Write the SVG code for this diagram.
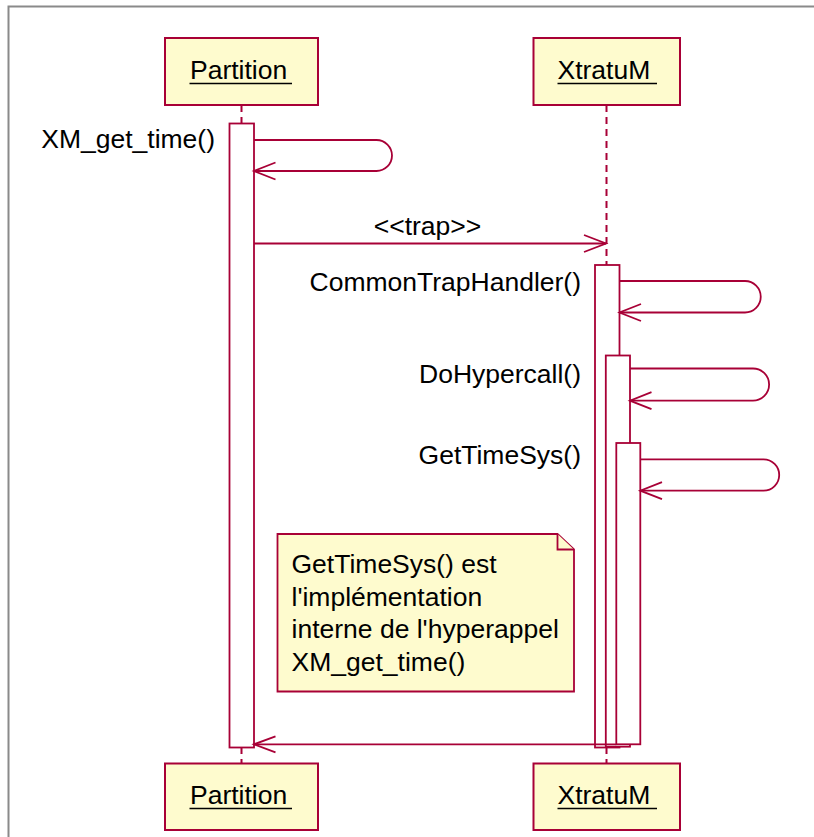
<svg xmlns="http://www.w3.org/2000/svg" width="814" height="837" viewBox="0 0 814 837">
<style>
.frame{fill:none;stroke:#8a8a8a;stroke-width:2}
.head{fill:#FEFBCE;stroke:#A80036;stroke-width:2}
.note{fill:#FEFBCE;stroke:#A80036;stroke-width:1.8}
.bar{fill:#FFFFFF;stroke:#A80036;stroke-width:1.8}
.life{fill:none;stroke:#A80036;stroke-width:2;stroke-dasharray:7,5}
.msg{fill:none;stroke:#A80036;stroke-width:1.8}
.ul{stroke:#000;stroke-width:1.5}
text{font-family:"Liberation Sans",Arial,sans-serif;font-size:26.5px;fill:#000}
.r{text-anchor:end}
.m{text-anchor:middle}
</style>
<rect width="814" height="837" fill="#FFFFFF"/>
<path class="frame" d="M8.5,837 V6.5 H814"/>
<g id="lifelines">
<line class="life" x1="241.5" y1="105" x2="241.5" y2="123"/>
<line class="life" x1="241.5" y1="747" x2="241.5" y2="763"/>
<line class="life" x1="606.5" y1="105" x2="606.5" y2="265"/>
<line class="life" x1="606.5" y1="747" x2="606.5" y2="763"/>
</g>
<g id="partition-top">
<rect class="head" x="165" y="38" width="153" height="67"/>
<text x="190" y="79">Partition</text>
<line class="ul" x1="189.5" y1="83.5" x2="292" y2="83.5"/>
</g>
<g id="xtratum-top">
<rect class="head" x="533.5" y="38" width="146.5" height="67"/>
<text x="557.5" y="79">XtratuM</text>
<line class="ul" x1="557.5" y1="83.5" x2="657" y2="83.5"/>
</g>
<g id="partition-bottom">
<rect class="head" x="165" y="763.5" width="153" height="66.5"/>
<text x="190" y="804">Partition</text>
<line class="ul" x1="189.5" y1="808.5" x2="292" y2="808.5"/>
</g>
<g id="xtratum-bottom">
<rect class="head" x="533.5" y="763.5" width="146.5" height="66.5"/>
<text x="557.5" y="804">XtratuM</text>
<line class="ul" x1="557.5" y1="808.5" x2="657" y2="808.5"/>
</g>
<g id="partition-activation">
<rect class="bar" x="229.5" y="123.5" width="24.5" height="624"/>
</g>
<g id="xtratum-activation-1">
<rect class="bar" x="595" y="265" width="24.5" height="482.5"/>
</g>
<g id="xtratum-activation-2">
<rect class="bar" x="605.8" y="355.5" width="24.2" height="391.2"/>
</g>
<g id="xtratum-activation-3">
<rect class="bar" x="616.3" y="443" width="24" height="301.3"/>
</g>
<g id="note">
<path class="note" d="M277.5,534 H557.5 L574,549.5 V691.5 H277.5 Z"/>
<path class="note" d="M557.5,534 V549.5 H574"/>
<text x="291.5" y="573">GetTimeSys() est</text>
<text x="291.5" y="605.5">l'implémentation</text>
<text x="291.5" y="638">interne de l'hyperappel</text>
<text x="291.5" y="670.5">XM_get_time()</text>
</g>
<g id="connectors">
<path class="msg" d="M254,140 H376.5 A15.5,15.5 0 0 1 376.5,171 H254"/>
<path class="msg" d="M275.5,162.5 L254,171 L275.5,179.5"/>
<line class="msg" x1="254" y1="243.5" x2="606" y2="243.5"/>
<path class="msg" d="M584,235 L606,243.5 L584,252"/>
<path class="msg" d="M619.5,281 H745 A15.75,15.75 0 0 1 745,312.5 H619.5"/>
<path class="msg" d="M641,304 L619.5,312.5 L641,321"/>
<path class="msg" d="M630,368.5 H753 A16.1,16.1 0 0 1 753,400.7 H630"/>
<path class="msg" d="M651.5,392.2 L630,400.7 L651.5,409.2"/>
<path class="msg" d="M640.3,459.3 H763.5 A15.7,15.7 0 0 1 763.5,490.7 H640.3"/>
<path class="msg" d="M662,482.2 L640.3,490.7 L662,499.2"/>
<line class="msg" x1="254" y1="744.3" x2="616.3" y2="744.3"/>
<path class="msg" d="M275.5,736.3 L254,744.3 L275.5,752.3"/>
</g>
<g id="labels">
<text class="r" x="215" y="148">XM_get_time()</text>
<text class="m" x="427.5" y="235">&lt;&lt;trap&gt;&gt;</text>
<text class="r" x="581" y="291">CommonTrapHandler()</text>
<text class="r" x="581" y="383">DoHypercall()</text>
<text class="r" x="581" y="464">GetTimeSys()</text>
</g>
</svg>
